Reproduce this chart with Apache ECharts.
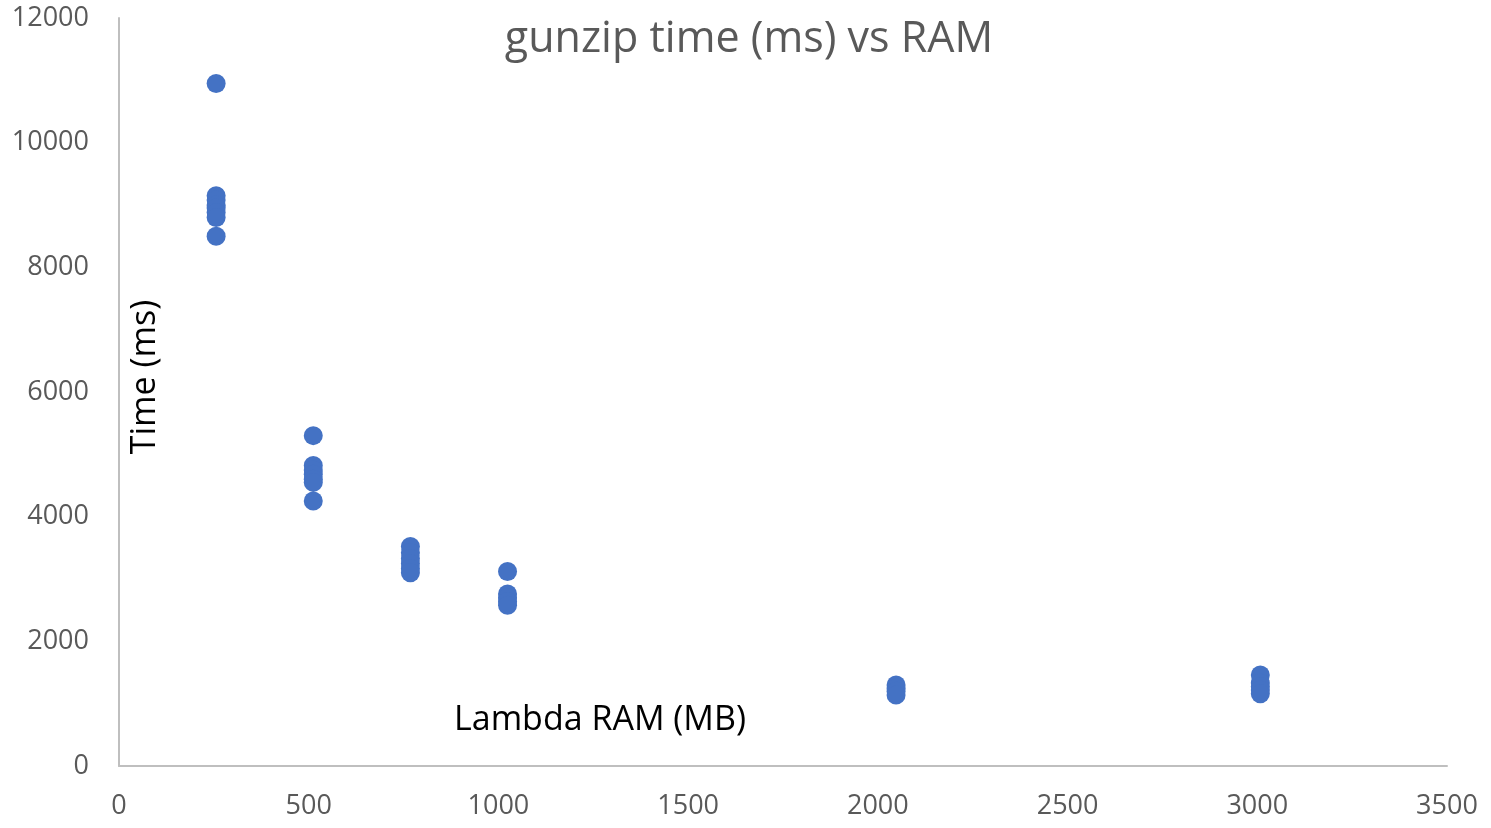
<!DOCTYPE html>
<html>
<head>
<meta charset="utf-8">
<script src="https://cdn.jsdelivr.net/npm/echarts@6/dist/echarts.min.js"></script>
<style>html,body{margin:0;padding:0;background:#fff;}#c{width:1491px;height:828px;}</style>
</head>
<body>
<div id="c"></div>
<script>
const ram = [256, 512, 768, 1024, 2048, 3008];
const times256 = [10950, 9150, 9080, 9000, 8950, 8880, 8800, 8500];
const times512 = [5300, 4820, 4750, 4680, 4600, 4550, 4250];
const times768 = [3520, 3420, 3330, 3250, 3170, 3100];
const times1024 = [3120, 2760, 2700, 2640, 2580];
const times2048 = [1300, 1250, 1200, 1140];
const times3008 = [1460, 1330, 1270, 1220, 1160];
const xTicks = [0, 500, 1000, 1500, 2000, 2500, 3000, 3500];
const yTicks = [0, 2000, 4000, 6000, 8000, 10000, 12000];

const groups = [times256, times512, times768, times1024, times2048, times3008];
const points = [];
groups.forEach((g, i) => g.forEach(t => points.push([ram[i], t])));

const font = '"Open Sans", "Noto Sans", sans-serif';
const chart = echarts.init(document.getElementById('c'));
chart.setOption({
  animation: false,
  backgroundColor: '#fff',
  title: {
    text: 'gunzip time (ms) vs RAM',
    left: 744, top: 13, textAlign: 'center',
    textStyle: { fontFamily: font, fontSize: 43, fontWeight: 'normal', color: '#595959' }
  },
  grid: { left: 119, right: 44, top: 18, bottom: 62, containLabel: false, outerBoundsMode: 'none' },
  xAxis: {
    type: 'value', min: xTicks[0], max: xTicks[xTicks.length - 1], interval: 500,
    axisLine: { show: true, lineStyle: { color: '#bfbfbf', width: 2 } },
    axisTick: { show: false },
    splitLine: { show: false },
    axisLabel: { color: '#595959', fontSize: 27, fontFamily: font, margin: 27, formatter: v => String(v) }
  },
  yAxis: {
    type: 'value', min: yTicks[0], max: yTicks[yTicks.length - 1], interval: 2000,
    axisLine: { show: true, lineStyle: { color: '#bfbfbf', width: 2 } },
    axisTick: { show: false },
    splitLine: { show: false },
    axisLabel: { color: '#595959', fontSize: 27, fontFamily: font, margin: 30, formatter: v => String(v) }
  },
  graphic: [{
    type: 'text', left: 454, top: 703,
    style: { text: 'Lambda RAM (MB)', fill: '#000', font: '34px ' + font }
  }, {
    type: 'text', x: 145, y: 377, rotation: Math.PI / 2,
    style: { text: 'Time (ms)', fill: '#000', font: '34px ' + font, align: 'center', verticalAlign: 'middle' }
  }],
  series: [{
    type: 'scatter',
    data: points,
    symbolSize: 19,
    itemStyle: { color: '#4472C4', opacity: 1 }
  }]
});
</script>
</body>
</html>
